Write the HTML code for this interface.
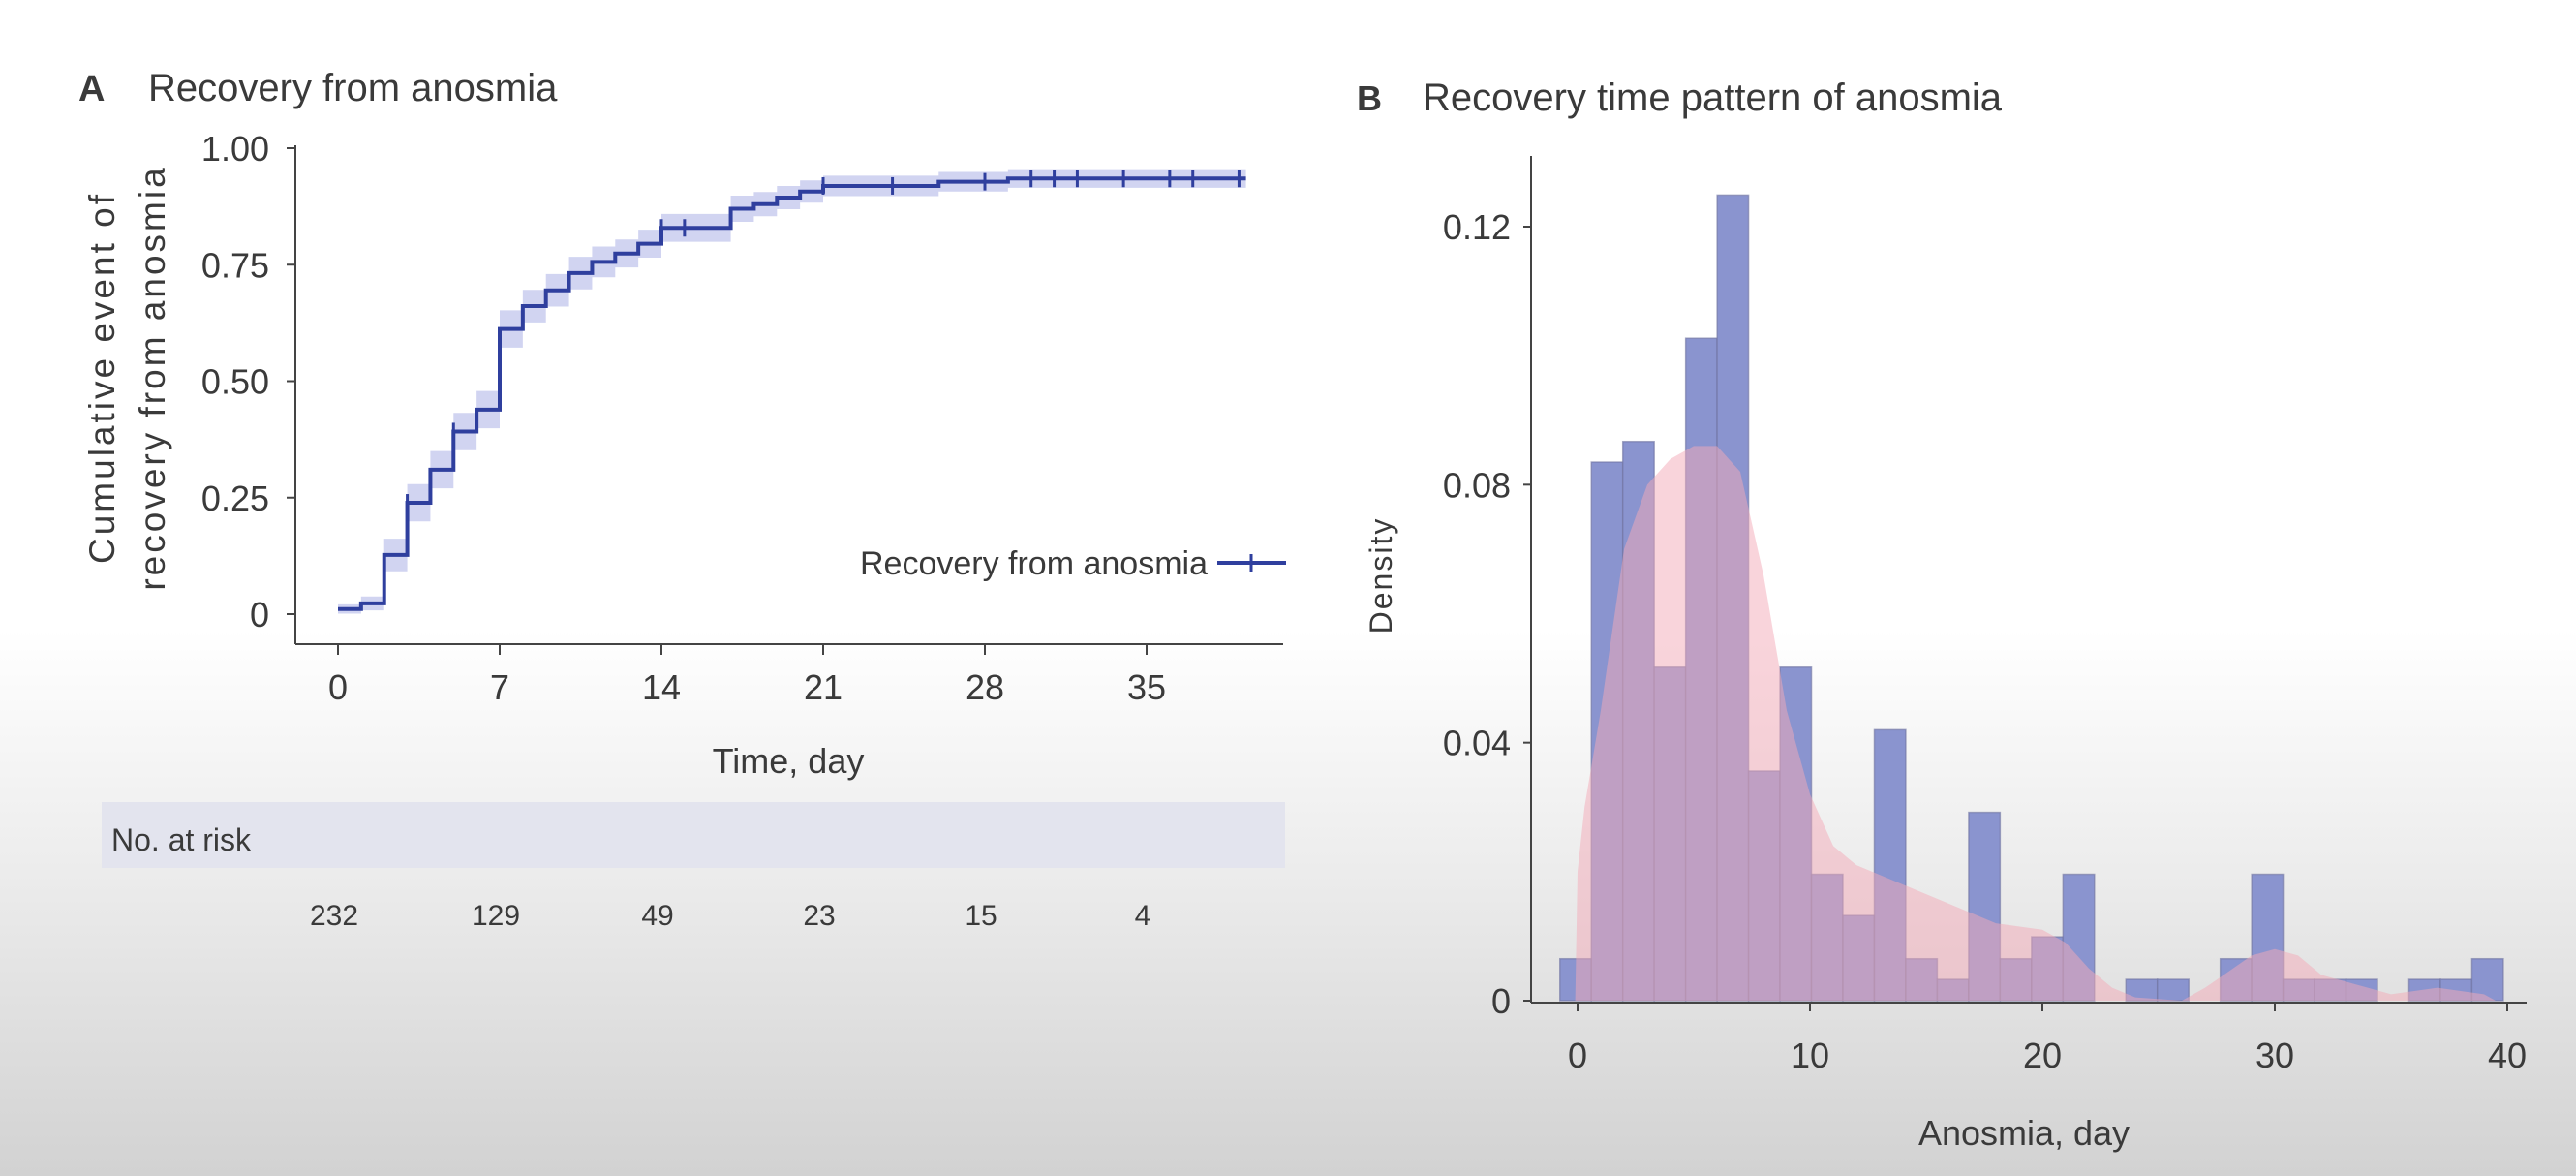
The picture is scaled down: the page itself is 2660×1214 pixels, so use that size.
<!DOCTYPE html>
<html><head><meta charset="utf-8">
<style>
html,body{margin:0;padding:0}
body{width:2660px;height:1214px;overflow:hidden;background:linear-gradient(to bottom,#ffffff 0px,#ffffff 650px,#ececec 900px,#d2d2d2 1214px);font-family:"Liberation Sans Narrow","Liberation Sans",sans-serif}
svg{position:absolute;left:0;top:0}
text{fill:#3a3a3a}
</style></head>
<body>
<svg id="chart" width="2660" height="1214" xmlns="http://www.w3.org/2000/svg">
<g id="panelA"></g>
<g id="panelB"></g>
</svg>
<script>
// ---------- Panel A data ----------
const kmTimes = [0,1,2,3,4,5,6,7,8,9,10,11,12,13,14,17,18,19,20,21,26,29];
const kmValues = [0.011,0.023,0.127,0.239,0.31,0.392,0.439,0.612,0.661,0.695,0.732,0.756,0.774,0.795,0.829,0.870,0.880,0.894,0.907,0.919,0.928,0.935];
const kmBand = [0.01,0.015,0.035,0.04,0.04,0.04,0.04,0.04,0.035,0.035,0.035,0.033,0.03,0.03,0.03,0.028,0.026,0.025,0.024,0.022,0.021,0.02];
const kmEnd = 39;
const censorTimes = [3,5,14,15,21,24,28,30,31,32,34,36,37,39];
const xTicksA = [0,7,14,21,28,35];
const yTicksA = [0,0.25,0.5,0.75,1];
const yTickLabelsA = ["0","0.25","0.50","0.75","1.00"];
const riskTimes = [0,7,14,21,28,35];
const riskCounts = [232,129,49,23,15,4];

// ---------- Panel B data ----------
const binStart = -0.76;
const binWidth = 1.353;
const binDensity = [0.0065,0.0835,0.0867,0.0517,0.1027,0.1249,0.0356,0.0517,0.0196,0.0132,0.042,0.0065,0.0033,0.0292,0.0065,0.0099,0.0196,0,0.0033,0.0033,0,0.0065,0.0196,0.0033,0.0033,0.0033,0,0.0033,0.0033,0.0065];
const kdeDays = [-0.1,0,0.3,1,2,3,4,5,6,7,8,9,10,11,12,14,16,18,20,21,22,23,24,26,27,29,30,31,32,34,35,37,39,39.5];
const kdeValues = [0,0.02,0.03,0.045,0.07,0.08,0.084,0.086,0.086,0.082,0.066,0.045,0.032,0.024,0.021,0.018,0.015,0.012,0.011,0.009,0.005,0.002,0.0005,0,0.002,0.007,0.008,0.007,0.004,0.002,0.001,0.002,0.001,0];
const xTicksB = [0,10,20,30,40];
const yTicksB = [0,0.04,0.08,0.12];
const yTickLabelsB = ["0","0.04","0.08","0.12"];

const NS = "http://www.w3.org/2000/svg";
function mk(parent, tag, attrs, txt){
  const e = document.createElementNS(NS, tag);
  for (const k in attrs) e.setAttribute(k, attrs[k]);
  if (txt !== undefined) e.textContent = txt;
  parent.appendChild(e);
  return e;
}

// ===== Panel A =====
const A = document.getElementById('panelA');
const xA = d => 349 + d * (1184 - 349) / 35;
const yA = v => 634 - v * (634 - 153);

let t = mk(A,'text',{x:81,y:104,'font-size':38,'font-weight':'bold','font-family':'Liberation Sans, sans-serif'},'A');
 
t = mk(A,'text',{x:153,y:104,'font-size':40},'Recovery from anosmia');
 

// band
let bandPts = [];
for (let i=0;i<kmTimes.length;i++){
  const x0 = xA(kmTimes[i]), x1 = xA(i+1<kmTimes.length?kmTimes[i+1]:kmEnd+0.3);
  const v = Math.min(1, kmValues[i]+kmBand[i]);
  bandPts.push(x0+','+yA(v), x1+','+yA(v));
}
let low = [];
for (let i=kmTimes.length-1;i>=0;i--){
  const x0 = xA(kmTimes[i]), x1 = xA(i+1<kmTimes.length?kmTimes[i+1]:kmEnd+0.3);
  const v = Math.max(0, kmValues[i]-kmBand[i]);
  low.push(x1+','+yA(v), x0+','+yA(v));
}
let band = mk(A,'polygon',{points:bandPts.concat(low).join(' '),fill:'#c9cdee',opacity:0.85});
 

// step line
let d = '';
for (let i=0;i<kmTimes.length;i++){
  const x0 = xA(kmTimes[i]);
  d += (i===0?'M':'L') + x0 + ',' + yA(kmValues[i]) + ' ';
  const x1 = xA(i+1<kmTimes.length?kmTimes[i+1]:kmEnd+0.3);
  d += 'L' + x1 + ',' + yA(kmValues[i]) + ' ';
}
let line = mk(A,'path',{d:d,fill:'none',stroke:'#2f3f9e','stroke-width':4});
 

function kmAt(day){ let v=kmValues[0]; for(let i=0;i<kmTimes.length;i++){ if(kmTimes[i]<=day) v=kmValues[i]; } return v; }
censorTimes.forEach(c=>{
  const m = mk(A,'line',{x1:xA(c),x2:xA(c),y1:yA(kmAt(c))-9,y2:yA(kmAt(c))+9,stroke:'#2f3f9e','stroke-width':3});
  
  
});

// axes
let ax = mk(A,'line',{x1:305,x2:305,y1:150,y2:665,stroke:'#444','stroke-width':2});
 
ax = mk(A,'line',{x1:305,x2:1325,y1:665,y2:665,stroke:'#444','stroke-width':2});
 
yTicksA.forEach((v,i)=>{
  mk(A,'line',{x1:296,x2:305,y1:yA(v),y2:yA(v),stroke:'#444','stroke-width':2});
  const l = mk(A,'text',{x:278,y:yA(v)+13,'font-size':36,'text-anchor':'end'},yTickLabelsA[i]);
  
  
});
xTicksA.forEach(v=>{
  mk(A,'line',{x1:xA(v),x2:xA(v),y1:665,y2:676,stroke:'#444','stroke-width':2});
  const l = mk(A,'text',{x:xA(v),y:722,'font-size':36,'text-anchor':'middle'},String(v));
  
  
});
t = mk(A,'text',{x:814,y:798,'font-size':36,'text-anchor':'middle'},'Time, day');
 
let yt = mk(A,'text',{transform:'translate(118,390) rotate(-90)','font-size':37,'text-anchor':'middle','font-family':'Liberation Sans, sans-serif','letter-spacing':'3'},'Cumulative event of');
 
yt = mk(A,'text',{transform:'translate(170,390) rotate(-90)','font-size':37,'text-anchor':'middle','font-family':'Liberation Sans, sans-serif','letter-spacing':'3'},'recovery from anosmia');
 

// legend
t = mk(A,'text',{x:1247,y:593,'font-size':34,'text-anchor':'end'},'Recovery from anosmia');
 
let lg = mk(A,'line',{x1:1257,x2:1328,y1:581,y2:581,stroke:'#2f3f9e','stroke-width':4});
 
mk(A,'line',{x1:1292,x2:1292,y1:572,y2:590,stroke:'#2f3f9e','stroke-width':3});

// risk table
let rb = mk(A,'rect',{x:105,y:828,width:1222,height:68,fill:'#e3e4ee'});
 
t = mk(A,'text',{x:115,y:878,'font-size':32},'No. at risk');
 
riskTimes.forEach((v,i)=>{
  const l = mk(A,'text',{x:xA(v)-4,y:955,'font-size':30,'text-anchor':'middle'},String(riskCounts[i]));
  
  
});

// ===== Panel B =====
const B = document.getElementById('panelB');
const xB = dd => 1629 + dd * (2589 - 1629) / 40;
const yB = v => 1033 - v * (1033 - 234) / 0.12;

t = mk(B,'text',{x:1401,y:114,'font-size':36,'font-weight':'bold','font-family':'Liberation Sans, sans-serif'},'B');
 
t = mk(B,'text',{x:1469,y:114,'font-size':40},'Recovery time pattern of anosmia');
 

binDensity.forEach((v,i)=>{
  if (v<=0) return;
  const x0 = xB(binStart + i*binWidth), x1 = xB(binStart + (i+1)*binWidth);
  const r = mk(B,'rect',{x:x0,y:yB(v),width:x1-x0,height:yB(0)-yB(v),fill:'#8a94cf',stroke:'#6f73a0','stroke-width':1.5,'stroke-opacity':0.6});
  
  
});
let kd = 'M' + xB(kdeDays[0]) + ',' + yB(0) + ' ';
kdeDays.forEach((dd,i)=>{ kd += 'L' + xB(dd) + ',' + yB(kdeValues[i]) + ' '; });
kd += 'L' + xB(kdeDays[kdeDays.length-1]) + ',' + yB(0) + ' Z';
let kde = mk(B,'path',{d:kd,fill:'#f3a9b8',opacity:0.5,'stroke-linejoin':'round'});
 

ax = mk(B,'line',{x1:1581,x2:1581,y1:161,y2:1035,stroke:'#444','stroke-width':2});
 
ax = mk(B,'line',{x1:1581,x2:2609,y1:1035,y2:1035,stroke:'#444','stroke-width':2});
 
yTicksB.forEach((v,i)=>{
  mk(B,'line',{x1:1573,x2:1581,y1:yB(v),y2:yB(v),stroke:'#444','stroke-width':2});
  const l = mk(B,'text',{x:1560,y:yB(v)+13,'font-size':36,'text-anchor':'end'},yTickLabelsB[i]);
  
  
});
xTicksB.forEach(v=>{
  mk(B,'line',{x1:xB(v),x2:xB(v),y1:1035,y2:1044,stroke:'#444','stroke-width':2});
  const l = mk(B,'text',{x:xB(v),y:1102,'font-size':36,'text-anchor':'middle'},String(v));
  
  
});
t = mk(B,'text',{x:2090,y:1182,'font-size':36,'text-anchor':'middle'},'Anosmia, day');
 
t = mk(B,'text',{transform:'translate(1437,594) rotate(-90)','font-size':32,'text-anchor':'middle','font-family':'Liberation Sans, sans-serif','letter-spacing':'2'},'Density');
 
</script>
</body></html>
